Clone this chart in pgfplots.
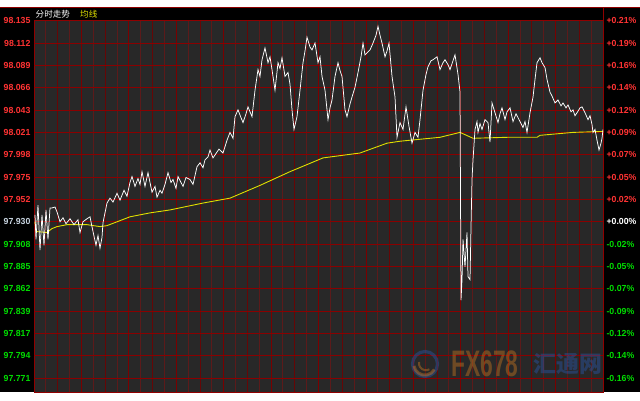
\documentclass[border=0pt]{standalone}
\usepackage{fontspec}
\setmainfont{Liberation Sans}
\newfontfamily\cjk{Noto Sans CJK SC}
\usepackage{pgfplots}
\pgfplotsset{compat=1.18}
\definecolor{plotbg}{HTML}{282828}
\definecolor{hgrid}{HTML}{8A0000}
\definecolor{gridmaj}{HTML}{7A0000}
\definecolor{gridmed}{HTML}{660606}
\definecolor{gridmin}{HTML}{5C1A1A}
\definecolor{border}{HTML}{900000}
\definecolor{upred}{HTML}{FF3333}
\definecolor{dngreen}{HTML}{00DD00}
\definecolor{basecol}{HTML}{C8D4E0}
\definecolor{avgyellow}{HTML}{E0E000}
\definecolor{wmorange}{HTML}{D07A20}
\definecolor{wmblue}{HTML}{2A5AB0}

\pgfplotstableread{
x y
1 97.937
2 97.912
4 97.947
6 97.901
8 97.937
10 97.906
12 97.942
14 97.912
16 97.944
18 97.944
21 97.945
23 97.940
26 97.930
29 97.934
32 97.928
36 97.933
40 97.927
44 97.932
46 97.919
49 97.930
53 97.933
56 97.935
59 97.920
62 97.906
64 97.916
66 97.903
68 97.914
69 97.929
73 97.949
76 97.954
79 97.950
83 97.959
86 97.952
90 97.962
93 97.956
96 97.970
98 97.976
101 97.966
104 97.974
106 97.968
108 97.981
111 97.966
114 97.980
116 97.970
118 97.960
121 97.966
123 97.955
126 97.962
128 97.959
131 97.968
134 97.980
137 97.970
139 97.973
142 97.964
144 97.976
147 97.970
149 97.966
152 97.975
156 97.973
159 97.968
163 97.986
166 97.990
169 97.985
171 97.993
174 97.996
176 98.003
179 97.995
181 97.998
185 98.004
189 98.000
193 98.013
196 98.021
199 98.015
201 98.037
204 98.044
207 98.036
209 98.031
212 98.040
214 98.047
218 98.037
221 98.064
224 98.085
226 98.078
228 98.095
231 98.107
234 98.092
236 98.098
238 98.085
241 98.064
244 98.092
246 98.086
248 98.097
251 98.078
254 98.082
256 98.070
258 98.044
260 98.024
263 98.037
266 98.064
269 98.092
271 98.104
273 98.118
276 98.108
278 98.105
281 98.112
284 98.092
286 98.098
288 98.078
291 98.064
294 98.034
296 98.046
298 98.054
301 98.078
304 98.092
306 98.084
308 98.078
311 98.044
313 98.037
316 98.050
318 98.057
321 98.067
324 98.082
327 98.098
329 98.112
331 98.100
333 98.102
336 98.105
339 98.112
342 98.120
344 98.129
346 98.120
348 98.112
351 98.098
353 98.104
355 98.112
358 98.078
361 98.057
363 98.016
366 98.031
369 98.024
372 98.047
375 98.027
378 98.010
381 98.021
384 98.016
386 98.034
389 98.064
392 98.080
394 98.088
397 98.094
399 98.095
403 98.098
406 98.085
409 98.092
411 98.095
414 98.090
416 98.085
419 98.094
421 98.100
424 98.080
426 98.062
427 97.850
428 97.871
429 97.912
431 97.884
433 97.919
434 97.874
436 97.871
437 97.925
438 97.973
439 97.993
441 98.024
443 98.032
444 98.021
446 98.030
448 98.024
451 98.034
454 98.031
456 98.011
458 98.051
461 98.041
464 98.031
466 98.040
468 98.046
471 98.034
473 98.042
476 98.046
479 98.032
482 98.040
484 98.036
487 98.030
489 98.026
491 98.032
493 98.021
496 98.041
499 98.057
501 98.075
503 98.092
506 98.097
508 98.092
511 98.087
513 98.075
516 98.062
518 98.058
521 98.051
524 98.054
527 98.048
529 98.051
532 98.046
534 98.049
537 98.042
539 98.044
541 98.038
543 98.041
546 98.046
548 98.047
551 98.041
554 98.034
556 98.038
558 98.029
559 98.021
561 98.024
563 98.013
565 98.003
567 98.010
568 98.015
569 98.024
}\pricedata

\pgfplotstableread{
x y
1 97.930
2 97.920
13 97.919
18 97.923
23 97.925
33 97.927
53 97.927
66 97.925
73 97.926
96 97.935
116 97.939
136 97.942
169 97.949
196 97.954
226 97.967
256 97.981
289 97.995
326 98.000
353 98.010
366 98.012
406 98.016
426 98.021
439 98.015
473 98.016
503 98.016
506 98.018
539 98.021
569 98.022
}\avgdata

\begin{document}
\begin{tikzpicture}[x=1bp,y=1bp]
\useasboundingbox (0,0) rectangle (640,400);
\fill[white] (0,0) rectangle (640,400);
\fill[black] (0,8) rectangle (640,393);
\draw[border, line width=0.8bp] (0,392.6) -- (640,392.6);
\draw[border, line width=0.8bp] (603,8) -- (603,392.6);

\begin{axis}[
  at={(34bp,8bp)}, anchor=south west,
  scale only axis, width=569bp, height=371.3bp,
  xmin=0, xmax=569, ymin=97.7565, ymax=98.1348,
  axis background/.style={fill=plotbg},
  axis line style={border, line width=0.8bp},
  xtick=\empty,
  ytick={97.77068,97.79344,97.8162,97.83896,97.86172,97.88448,97.90724,97.930,97.95276,97.97552,97.99828,98.02104,98.0438,98.06656,98.08932,98.11208,98.13484},
  yticklabels={
    \textcolor{dngreen}{97.771},\textcolor{dngreen}{97.794},\textcolor{dngreen}{97.817},\textcolor{dngreen}{97.839},\textcolor{dngreen}{97.862},\textcolor{dngreen}{97.885},\textcolor{dngreen}{97.908},
    \textcolor{basecol}{97.930},
    \textcolor{upred}{97.952},\textcolor{upred}{97.975},\textcolor{upred}{97.998},\textcolor{upred}{98.021},\textcolor{upred}{98.043},\textcolor{upred}{98.066},\textcolor{upred}{98.089},\textcolor{upred}{98.112},\textcolor{upred}{98.135}},
  yticklabel style={font=\bfseries\fontsize{8.8}{10}\selectfont},
  major tick length=0, minor tick length=0,
  clip=true,
]
% vertical grid: minor, medium, major
\pgfplotsinvokeforeach{11.854,35.563,59.271,82.979,106.688,130.396,154.104,177.813,201.521,225.229,248.938,272.646,296.354,320.063,343.771,367.479,391.188,414.896,438.604,462.313,486.021,509.729,533.438,557.146}{
  \draw[gridmin, line width=0.9bp] (axis cs:#1,97.7565) -- (axis cs:#1,98.1348);
}
\pgfplotsinvokeforeach{23.708,71.125,118.542,165.958,213.375,260.792,308.208,355.625,403.042,450.458,497.875,545.292}{
  \draw[gridmed, line width=0.85bp] (axis cs:#1,97.7565) -- (axis cs:#1,98.1348);
}
\pgfplotsinvokeforeach{47.4167,94.8333,142.25,189.6667,237.0833,284.5,331.9167,379.3333,426.75,474.1667,521.5833}{
  \draw[gridmaj, line width=0.85bp] (axis cs:#1,97.7565) -- (axis cs:#1,98.1348);
}
% horizontal grid
\pgfplotsinvokeforeach{97.77068,97.79344,97.8162,97.83896,97.86172,97.88448,97.90724,97.930,97.95276,97.97552,97.99828,98.02104,98.0438,98.06656,98.08932,98.11208}{
  \draw[hgrid, line width=0.9bp] (axis cs:0,#1) -- (axis cs:569,#1);
}
\addplot[avgyellow, line width=0.9bp] table[x=x,y=y] {\avgdata};
\addplot[white, line width=0.75bp] table[x=x,y=y] {\pricedata};
\end{axis}

\begin{axis}[
  at={(34bp,8bp)}, anchor=south west,
  scale only axis, width=569bp, height=371.3bp,
  xmin=0, xmax=569, ymin=97.7565, ymax=98.1348,
  axis x line=none, axis y line*=right,
  axis line style={draw=none},
  major tick length=0,
  ytick={97.77068,97.79344,97.8162,97.83896,97.86172,97.88448,97.90724,97.930,97.95276,97.97552,97.99828,98.02104,98.0438,98.06656,98.08932,98.11208,98.13484},
  yticklabels={
    \textcolor{dngreen}{-0.16\%},\textcolor{dngreen}{-0.14\%},\textcolor{dngreen}{-0.12\%},\textcolor{dngreen}{-0.09\%},\textcolor{dngreen}{-0.07\%},\textcolor{dngreen}{-0.05\%},\textcolor{dngreen}{-0.02\%},
    \textcolor{white}{+0.00\%},
    \textcolor{upred}{+0.02\%},\textcolor{upred}{+0.05\%},\textcolor{upred}{+0.07\%},\textcolor{upred}{+0.09\%},\textcolor{upred}{+0.12\%},\textcolor{upred}{+0.14\%},\textcolor{upred}{+0.16\%},\textcolor{upred}{+0.19\%},\textcolor{upred}{+0.21\%}},
  yticklabel style={font=\bfseries\fontsize{8.8}{10}\selectfont},
]
\addplot[draw=none] coordinates {(0,97.93)};
\end{axis}

% title
\node[anchor=west, inner sep=0, text=white, font=\cjk\fontsize{8.6}{9}\selectfont] at (35.5,385.5) {分时走势};
\node[anchor=west, inner sep=0, text=avgyellow, font=\cjk\fontsize{8.6}{9}\selectfont] at (80,385.5) {均线};

% watermark
\begin{scope}[opacity=0.42]
  \draw[wmblue, line width=3.2] (425,36) circle (12.5);
  \draw[wmorange, line width=3] (414,34) arc (190:330:11);
  \draw[wmorange, line width=2] (419,38) arc (170:300:7);
  \node[anchor=west, inner sep=0, text=wmorange] at (451,36) {\scalebox{0.62}[1]{\fontsize{37}{37}\selectfont\bfseries FX678}};
  \node[anchor=west, inner sep=0, text=wmblue] at (533,36) {\cjk\fontsize{23}{24}\selectfont\bfseries 汇通网};
\end{scope}
\end{tikzpicture}
\end{document}
